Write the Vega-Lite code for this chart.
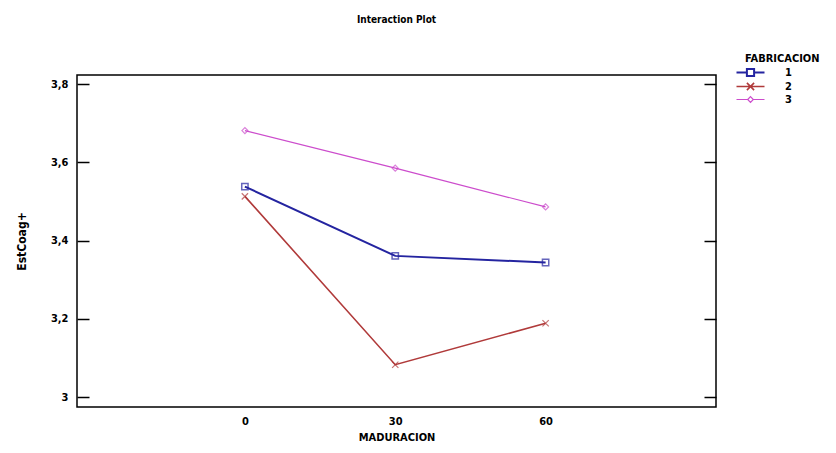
{
  "$schema": "https://vega.github.io/schema/vega-lite/v6.json",
  "autosize": "none",
  "width": 639,
  "height": 332,
  "padding": {"left": 77, "top": 75, "right": 120, "bottom": 46},
  "background": "white",
  "config": {
    "view": {"stroke": "black", "strokeWidth": 1.5},
    "font": "DejaVu Sans Condensed, Liberation Sans, sans-serif",
    "axis": {"labelFont": "DejaVu Sans Condensed, Liberation Sans, sans-serif", "titleFont": "DejaVu Sans Condensed, Liberation Sans, sans-serif", "labelFontWeight": "bold", "titleFontWeight": "bold", "labelFontSize": 11, "titleFontSize": 11, "labelColor": "black", "titleColor": "black", "grid": false},
    "legend": {"labelFont": "DejaVu Sans Condensed, Liberation Sans, sans-serif", "titleFont": "DejaVu Sans Condensed, Liberation Sans, sans-serif"}
  },
  "title": {"text": "Interaction Plot", "font": "DejaVu Sans Condensed, Liberation Sans, sans-serif", "fontSize": 10, "fontWeight": "bold", "color": "black", "anchor": "middle", "offset": 28},
  "data": {"values": [
    {"MADURACION": 0, "FABRICACION": "1", "EstCoag": 3.538},
    {"MADURACION": 30, "FABRICACION": "1", "EstCoag": 3.361},
    {"MADURACION": 60, "FABRICACION": "1", "EstCoag": 3.344},
    {"MADURACION": 0, "FABRICACION": "2", "EstCoag": 3.513},
    {"MADURACION": 30, "FABRICACION": "2", "EstCoag": 3.083},
    {"MADURACION": 60, "FABRICACION": "2", "EstCoag": 3.189},
    {"MADURACION": 0, "FABRICACION": "3", "EstCoag": 3.681},
    {"MADURACION": 30, "FABRICACION": "3", "EstCoag": 3.585},
    {"MADURACION": 60, "FABRICACION": "3", "EstCoag": 3.486}
  ]},
  "layer": [
    {
      "mark": {"type": "line"},
      "encoding": {
        "x": {"field": "MADURACION", "type": "quantitative", "scale": {"domain": [-33.5, 94], "nice": false, "zero": false},
              "axis": {"title": "MADURACION", "values": [0, 30, 60], "ticks": false, "domain": false, "labelPadding": 8, "titlePadding": 5}},
        "y": {"field": "EstCoag", "type": "quantitative", "scale": {"domain": [2.975, 3.823], "nice": false, "zero": false},
              "axis": {"title": "EstCoag+", "titleFontSize": 12, "orient": "left", "values": [3, 3.2, 3.4, 3.6, 3.8], "domain": false, "tickSize": -12, "tickColor": "black", "tickWidth": 1.5, "labelPadding": 21, "titlePadding": 22, "labelExpr": "replace(format(datum.value, '.1~f'), '.', ',')"}},
        "color": {"field": "FABRICACION", "type": "nominal",
                  "scale": {"domain": ["1", "2", "3"], "range": ["#2424a0", "#b03a3a", "#cc4ccc"]},
                  "legend": {"title": "FABRICACION", "orient": "none", "legendX": 668, "legendY": -22, "padding": 0,
                             "titleFontSize": 11, "titleFontWeight": "bold", "titleColor": "black", "labelFontSize": 11, "labelFontWeight": "bold", "labelColor": "black",
                             "symbolType": "stroke", "symbolSize": 64, "symbolStrokeWidth": 1.5, "labelOffset": 29, "rowPadding": -8, "titlePadding": 3,
                             "encode": {"symbols": {
                               "update": {"fill": {"value": "transparent"},
                               "shape": {"signal": "datum.value === '1' ? 'M-3.5,0H-0.9M0.9,0H3.5M-0.9,-0.9H0.9V0.9H-0.9Z' : datum.value === '2' ? 'M-3.5,0H3.5M-0.9,-0.9L0.9,0.9M-0.9,0.9L0.9,-0.9' : 'M-3.5,0H-0.7M0.7,0H3.5M0,-0.7L0.7,0L0,0.7L-0.7,0Z'"}}}}}},
        "strokeWidth": {"field": "FABRICACION", "type": "nominal", "scale": {"domain": ["1", "2", "3"], "range": [2, 1.2, 1.4]}, "legend": null}
      }
    },
    {
      "transform": [{"filter": "datum.FABRICACION === '1'"}],
      "mark": {"type": "point", "shape": "square", "filled": false, "size": 40, "strokeWidth": 1.5},
      "encoding": {
        "x": {"field": "MADURACION", "type": "quantitative"},
        "y": {"field": "EstCoag", "type": "quantitative", "scale": {"domain": [2.975, 3.823], "nice": false, "zero": false},
              "axis": {"title": null, "orient": "right", "values": [3, 3.2, 3.4, 3.6, 3.8], "domain": false, "labels": false, "tickSize": -12, "tickColor": "black", "tickWidth": 1.5}},
        "color": {"field": "FABRICACION", "type": "nominal"}
      }
    },
    {
      "transform": [{"filter": "datum.FABRICACION === '2'"}],
      "mark": {"type": "point", "shape": "M-1,-1L1,1M-1,1L1,-1", "filled": false, "size": 40, "strokeWidth": 1.2},
      "encoding": {
        "x": {"field": "MADURACION", "type": "quantitative"},
        "y": {"field": "EstCoag", "type": "quantitative", "scale": {"domain": [2.975, 3.823], "nice": false, "zero": false}, "axis": null},
        "color": {"field": "FABRICACION", "type": "nominal"}
      }
    },
    {
      "transform": [{"filter": "datum.FABRICACION === '3'"}],
      "mark": {"type": "point", "shape": "diamond", "filled": false, "size": 36, "strokeWidth": 1.2},
      "encoding": {
        "x": {"field": "MADURACION", "type": "quantitative"},
        "y": {"field": "EstCoag", "type": "quantitative", "scale": {"domain": [2.975, 3.823], "nice": false, "zero": false}, "axis": null},
        "color": {"field": "FABRICACION", "type": "nominal"}
      }
    }
  ],
  "resolve": {"scale": {"y": "independent"}}
}
